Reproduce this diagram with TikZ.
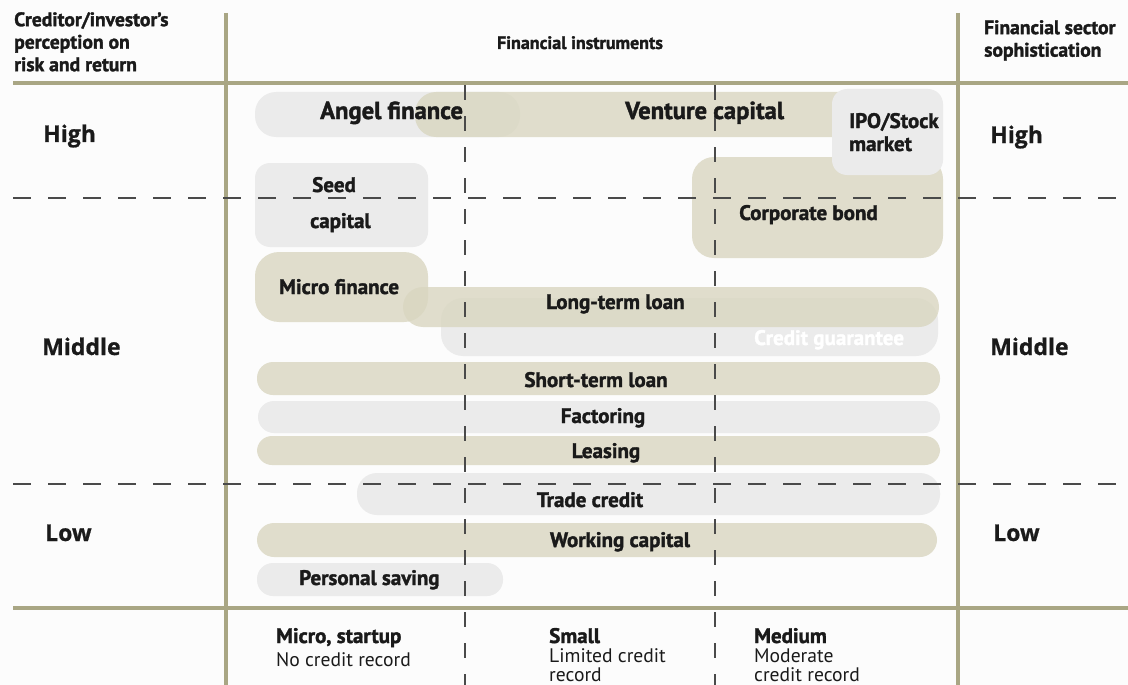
\documentclass[tikz,border=0pt]{standalone}
\usepackage{fontspec}
\setmainfont{PT Sans}
\newfontfamily\labelsf{PT Sans}
\newfontfamily\heavysf[FakeBold=1.6]{PT Sans Bold}
\newfontfamily\widesf[FakeBold=0.8]{Open Sans Bold}
\usetikzlibrary{positioning}

\definecolor{gridolive}{HTML}{A9A684}
\definecolor{barbeige}{HTML}{D9D6C0}
\definecolor{bargray}{HTML}{EBEBEB}
\definecolor{dashgray}{HTML}{4A4A4A}
\definecolor{inkblack}{HTML}{1A1A1A}

\begin{document}
\begin{tikzpicture}[x=1pt,y=-1pt,
	frame/.style={draw=gridolive, line width=4pt},
	rowdash/.style={draw=dashgray, line width=1.4pt, dash pattern=on 18pt off 17pt},
	coldash/.style={draw=dashgray, line width=1.8pt, dash pattern=on 15pt off 16pt},
	graybar/.style={fill=bargray},
	beigebar/.style={fill=barbeige, fill opacity=0.8},
	head/.style={font=\heavysf\fontsize{19.6}{22.5}\selectfont, text=inkblack, inner sep=0pt, align=left},
	tool/.style={font=\heavysf\fontsize{21}{23}\selectfont, text=inkblack, inner sep=0pt},
	bigtool/.style={tool, font=\heavysf\fontsize{24.6}{28}\selectfont},
	level/.style={font=\widesf\fontsize{23}{26}\selectfont, text=inkblack, inner sep=0pt, anchor=base west},
	firm/.style={font=\heavysf\fontsize{21}{23}\selectfont, text=inkblack, inner sep=0pt, anchor=base west},
	record/.style={font=\labelsf\fontsize{19.6}{19}\selectfont, text=inkblack, inner sep=0pt, align=left}]

	%page
	\fill[white!99!black] (0,0) rectangle (1128,685);
	\useasboundingbox (0,0) rectangle (1128,685);

	%bars - high
	\fill[graybar, rounded corners=21pt] (255,92) rectangle (520,137);		%angel
	\fill[beigebar, rounded corners=21pt] (415,92) rectangle (905,137);	%venture
	\fill[graybar, rounded corners=15pt] (255,163) rectangle (428,247);	%seed
	\fill[beigebar, rounded corners=22pt] (692,157) rectangle (943,258);	%bond
	\fill[graybar, rounded corners=15pt] (832,89) rectangle (943,175);		%IPO

	%bars - middle
	\fill[graybar, rounded corners=22pt] (441,298) rectangle (938,356);	%guarantee
	\fill[beigebar, rounded corners=24pt] (255,252) rectangle (428,322);	%micro
	\fill[beigebar, rounded corners=20pt] (403,287) rectangle (939,327);	%long-term
	\fill[beigebar, rounded corners=16pt] (257,362) rectangle (940,395);	%short-term
	\fill[graybar, rounded corners=16pt] (258,401) rectangle (940,433);	%factoring
	\fill[beigebar, rounded corners=15pt] (257,436) rectangle (940,465);	%leasing

	%bars - low
	\fill[graybar, rounded corners=20pt] (357,473) rectangle (940,515);	%trade
	\fill[beigebar, rounded corners=17pt] (257,523) rectangle (937,557);	%working
	\fill[graybar, rounded corners=16pt] (257,563) rectangle (503,596);	%saving

	%frame
	\draw[frame] (13,83)--(1128,83);
	\draw[frame] (13,608)--(1128,608);
	\draw[frame] (226,13)--(226,685);
	\draw[frame] (958,13)--(958,685);

	%dashed lines
	\draw[rowdash] (13,198)--(1128,198);	%high/middle
	\draw[rowdash] (13,484)--(1128,484);	%middle/low
	\draw[coldash] (465,85)--(465,685);	%micro/small
	\draw[coldash] (715,85)--(715,685);	%small/medium

	%headings
	\node[head, anchor=north west] (creditor) at (14,12) {Creditor/investor’s\\perception on\\risk and return};
	\node[head, anchor=base, font=\heavysf\fontsize{18}{22}\selectfont] (instruments) at (580,49) {Financial instruments};
	\node[head, anchor=north west] (sector) at (984,20) {Financial sector\\sophistication};

	%risk levels
	\node[level] (highL) at (43,142) {High};
	\node[level] (middleL) at (42,355) {Middle};
	\node[level] (lowL) at (45,541) {Low};
	\node[level] (highR) at (990,143) {High};
	\node[level] (middleR) at (990,355) {Middle};
	\node[level] (lowR) at (993,541) {Low};

	%instrument labels
	\node[bigtool, anchor=base west] (angel) at (320,119) {Angel finance};
	\node[bigtool, anchor=base west] (venture) at (625,119) {Venture capital};
	\node[tool, anchor=base west, align=left] (ipo) at (849,151) {IPO/Stock\\market};
	\node[tool, anchor=base west] (seed) at (312,192) {Seed};
	\node[tool, anchor=base west] (seedcap) at (310,228) {capital};
	\node[tool, anchor=base west] (bond) at (739,220) {Corporate bond};
	\node[tool, anchor=base west] (micro) at (279,294) {Micro finance};
	\node[tool, anchor=base west] (longterm) at (546,309) {Long-term loan};
	\node[tool, anchor=base west, text=white] (guarantee) at (754,345) {Credit guarantee};
	\node[tool, anchor=base] (shortterm) at (596,387) {Short-term loan};
	\node[tool, anchor=base] (factoring) at (603,423) {Factoring};
	\node[tool, anchor=base] (leasing) at (606,458) {Leasing};
	\node[tool, anchor=base] (trade) at (590,507) {Trade credit};
	\node[tool, anchor=base] (working) at (620,547) {Working capital};
	\node[tool, anchor=base west] (saving) at (299,585) {Personal saving};

	%firm size
	\node[firm] (microfirm) at (276,643) {Micro, startup};
	\node[firm] (smallfirm) at (549,643) {Small};
	\node[firm] (mediumfirm) at (754,643) {Medium};
	\node[record, below=5pt of microfirm.south west, anchor=north west] (norecord) {No credit record};
	\node[record, below=5pt of smallfirm.south west, anchor=north west] (limited) {Limited credit\\record};
	\node[record, below=5pt of mediumfirm.south west, anchor=north west] (moderate) {Moderate\\credit record};
\end{tikzpicture}
\end{document}
